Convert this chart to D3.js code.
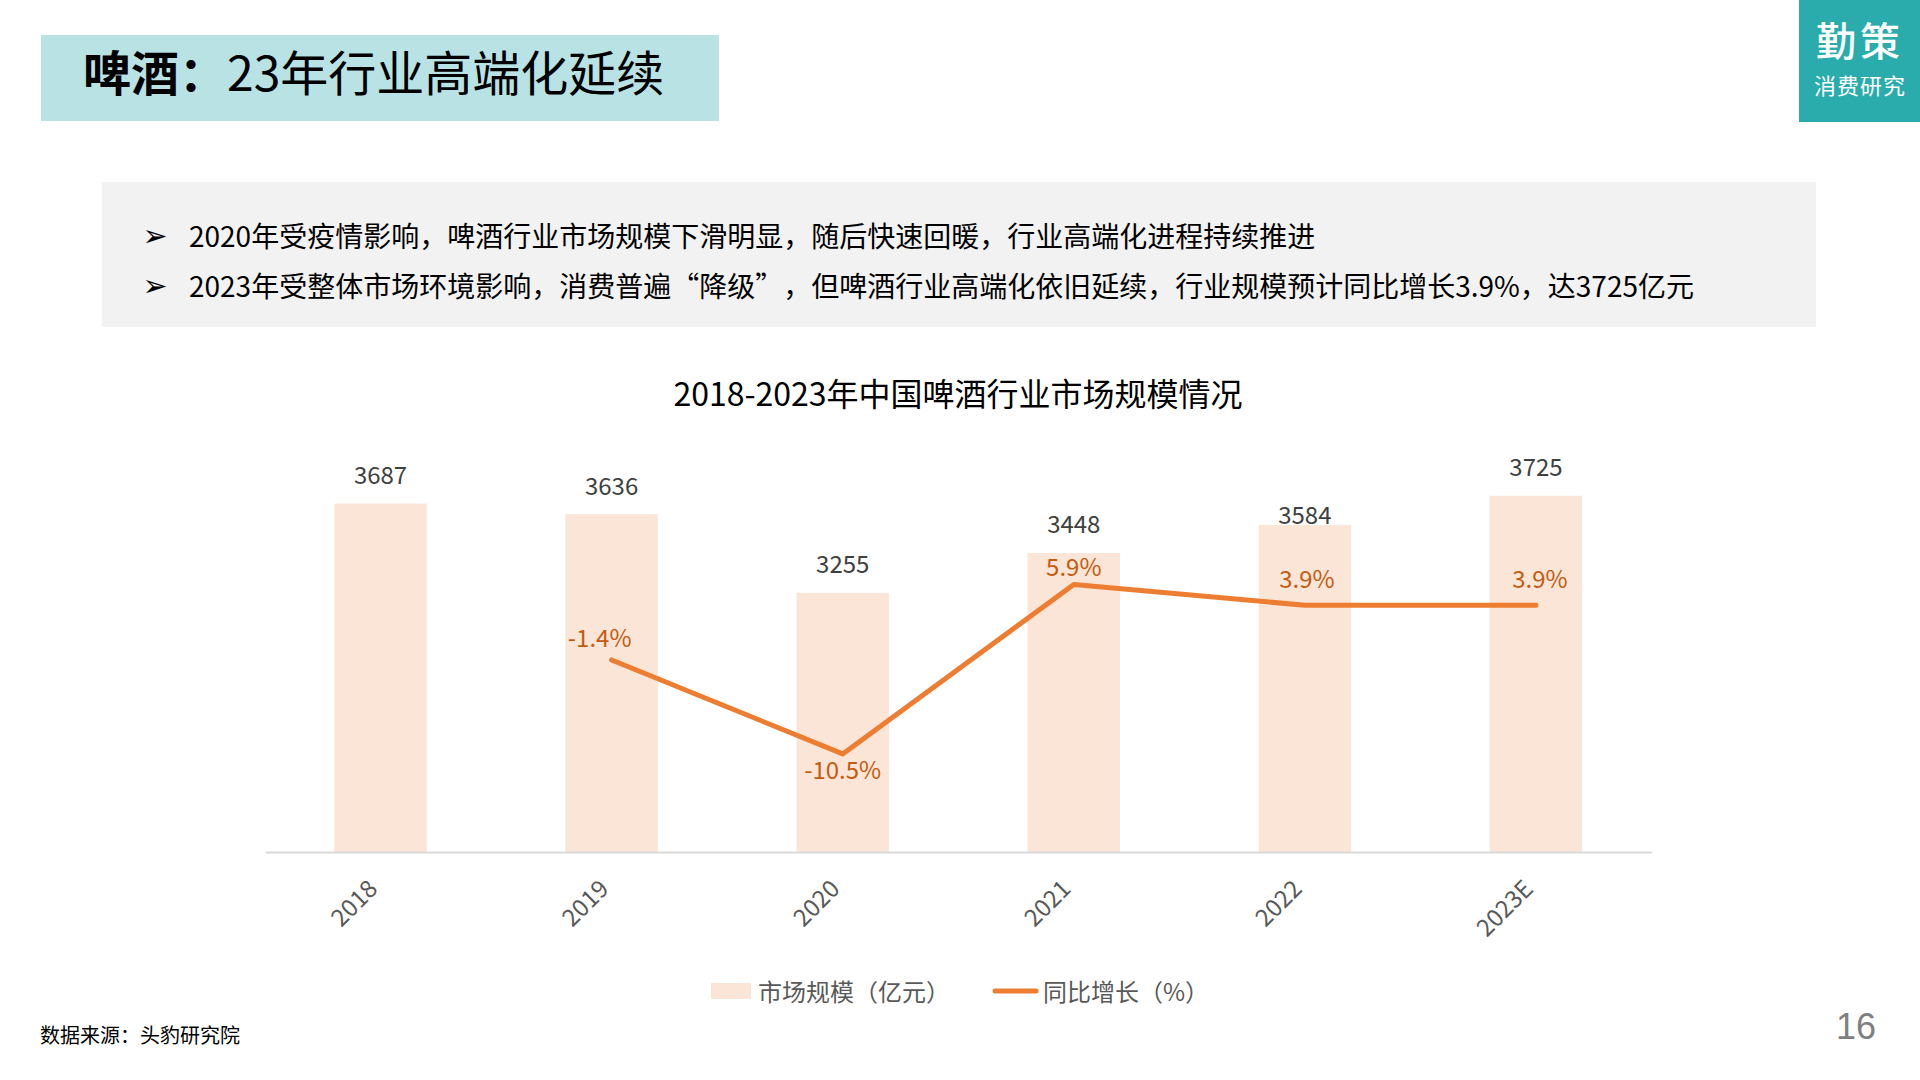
<!DOCTYPE html>
<html>
<head>
<meta charset="utf-8">
<script src="https://cdn.jsdelivr.net/npm/d3@7"></script>
<style>
  body { margin: 0; background: #fff; }
  text { font-family: "Noto Sans CJK SC", sans-serif; }
</style>
</head>
<body>
<svg id="chart" width="1920" height="1080"></svg>
<script>
// Data
const years = ["2018", "2019", "2020", "2021", "2022", "2023E"];
const marketSize = [3687, 3636, 3255, 3448, 3584, 3725];
const growthYears = ["2019", "2020", "2021", "2022", "2023E"];
const growth = [-1.4, -10.5, 5.9, 3.9, 3.9];
const growthLabels = ["-1.4%", "-10.5%", "5.9%", "3.9%", "3.9%"];

const pageTitleBold = "啤酒：";
const pageTitleRest = "23年行业高端化延续";
const bullets = [
  "2020年受疫情影响，啤酒行业市场规模下滑明显，随后快速回暖，行业高端化进程持续推进",
  "2023年受整体市场环境影响，消费普遍“降级”，但啤酒行业高端化依旧延续，行业规模预计同比增长3.9%，达3725亿元"
];
const chartTitle = "2018-2023年中国啤酒行业市场规模情况";
const legendNames = ["市场规模（亿元）", "同比增长（%）"];
const sourceText = "数据来源：头豹研究院";

const svg = d3.select("#chart");

// Small helper for the slide text
function addText(x, y, str, size, color, anchor) {
  return svg.append("text")
    .attr("x", x)
    .attr("y", y)
    .attr("font-size", size)
    .attr("fill", color)
    .attr("text-anchor", anchor || "start")
    .attr("dominant-baseline", "central")
    .text(str);
}

// Slide header
svg.append("rect").attr("x", 41).attr("y", 35).attr("width", 678).attr("height", 86).attr("fill", "#B9E2E4");
const head = addText(83, 70, "", 48, "#000");
head.append("tspan").attr("font-weight", 700).text(pageTitleBold);
head.append("tspan").text(pageTitleRest);

// Logo block
svg.append("rect").attr("x", 1799).attr("y", 0).attr("width", 121).attr("height", 122).attr("fill", "#2AACAC");
addText(1860, 39, "勤策", 40, "#fff", "middle").attr("letter-spacing", 4).attr("font-weight", 500);
addText(1860, 84, "消费研究", 22, "#fff", "middle").attr("letter-spacing", 1);

// Grey summary box
svg.append("rect").attr("x", 102).attr("y", 182).attr("width", 1714).attr("height", 145).attr("fill", "#F2F2F2");
bullets.forEach((b, i) => {
  let y = 235 + i * 50;
  addText(155, y, "➢", 30, "#000", "middle").style("font-family", "DejaVu Sans");
  // the closing quote is a full em wide in the original
  let parts = b.split("”");
  let line = addText(189, y, parts[0] + (parts[1] ? "”" : ""), 28, "#000");
  if (parts[1]) line.append("tspan").attr("dx", 14).text(parts[1]);
});

addText(958, 392, chartTitle, 32, "#000", "middle");

// Scales
const x = d3.scaleBand().domain(years).range([265, 1651.5]).paddingInner(0.6).paddingOuter(0.3);
const yBar = d3.scaleLinear().domain([2000, 4000]).range([852, 439]);
const yLine = d3.scaleLinear().domain([-20, 20]).range([852, 439]);

// Bars
svg.append("g").selectAll("rect")
  .data(marketSize)
  .join("rect")
  .attr("x", (d, i) => x(years[i]))
  .attr("y", d => yBar(d))
  .attr("width", x.bandwidth())
  .attr("height", d => yBar.range()[0] - yBar(d))
  .attr("fill", "#FBE5D6");

// Axis
const axis = svg.append("g")
  .attr("transform", "translate(0,852)")
  .call(d3.axisBottom(x).tickSize(0));
axis.select(".domain").attr("stroke", "#D9D9D9").attr("stroke-width", 2);
axis.selectAll("text")
  .attr("font-size", 24)
  .attr("fill", "#595959")
  .attr("text-anchor", "end")
  .attr("dominant-baseline", "central")
  .attr("dy", 0)
  .attr("y", 0)
  .attr("transform", "translate(-9,31) rotate(-45)");

// Value labels, 2022 sits closer to its bar
svg.append("g").selectAll("text")
  .data(marketSize)
  .join("text")
  .attr("x", (d, i) => x(years[i]) + x.bandwidth() / 2)
  .attr("y", (d, i) => yBar(d) - (years[i] === "2022" ? 11 : 30))
  .attr("font-size", 24)
  .attr("fill", "#404040")
  .attr("text-anchor", "middle")
  .attr("dominant-baseline", "central")
  .text(d => d);

// Growth line
const lineGen = d3.line()
  .x((d, i) => x(growthYears[i]) + x.bandwidth() / 2)
  .y(d => yLine(d));

svg.append("path")
  .datum(growth)
  .attr("d", lineGen)
  .attr("fill", "none")
  .attr("stroke", "#ED7D31")
  .attr("stroke-width", 5)
  .attr("stroke-linecap", "round")
  .attr("stroke-linejoin", "round");

// Growth labels, nudged by hand like the original
const nudgeX = [-12, 0, 0, 2, 4];
const nudgeY = [-23, 15, -19, -28, -28];
svg.append("g").selectAll("text")
  .data(growth)
  .join("text")
  .attr("x", (d, i) => x(growthYears[i]) + x.bandwidth() / 2 + nudgeX[i])
  .attr("y", (d, i) => yLine(d) + nudgeY[i])
  .attr("font-size", 24)
  .attr("fill", "#C55A11")
  .attr("text-anchor", "middle")
  .attr("dominant-baseline", "central")
  .text((d, i) => growthLabels[i]);

// Legend
svg.append("rect").attr("x", 711).attr("y", 983).attr("width", 40).attr("height", 16).attr("fill", "#FBE5D6");
addText(758, 990, legendNames[0], 24, "#595959");
svg.append("line").attr("x1", 995).attr("x2", 1036).attr("y1", 991).attr("y2", 991)
  .attr("stroke", "#ED7D31").attr("stroke-width", 5).attr("stroke-linecap", "round");
addText(1043, 990, legendNames[1], 24, "#595959");

// Footer
addText(40, 1034, sourceText, 20, "#000");
addText(1856, 1026, "16", 36, "#7F7F7F", "middle").style("font-family", "Liberation Sans");
</script>
</body>
</html>
